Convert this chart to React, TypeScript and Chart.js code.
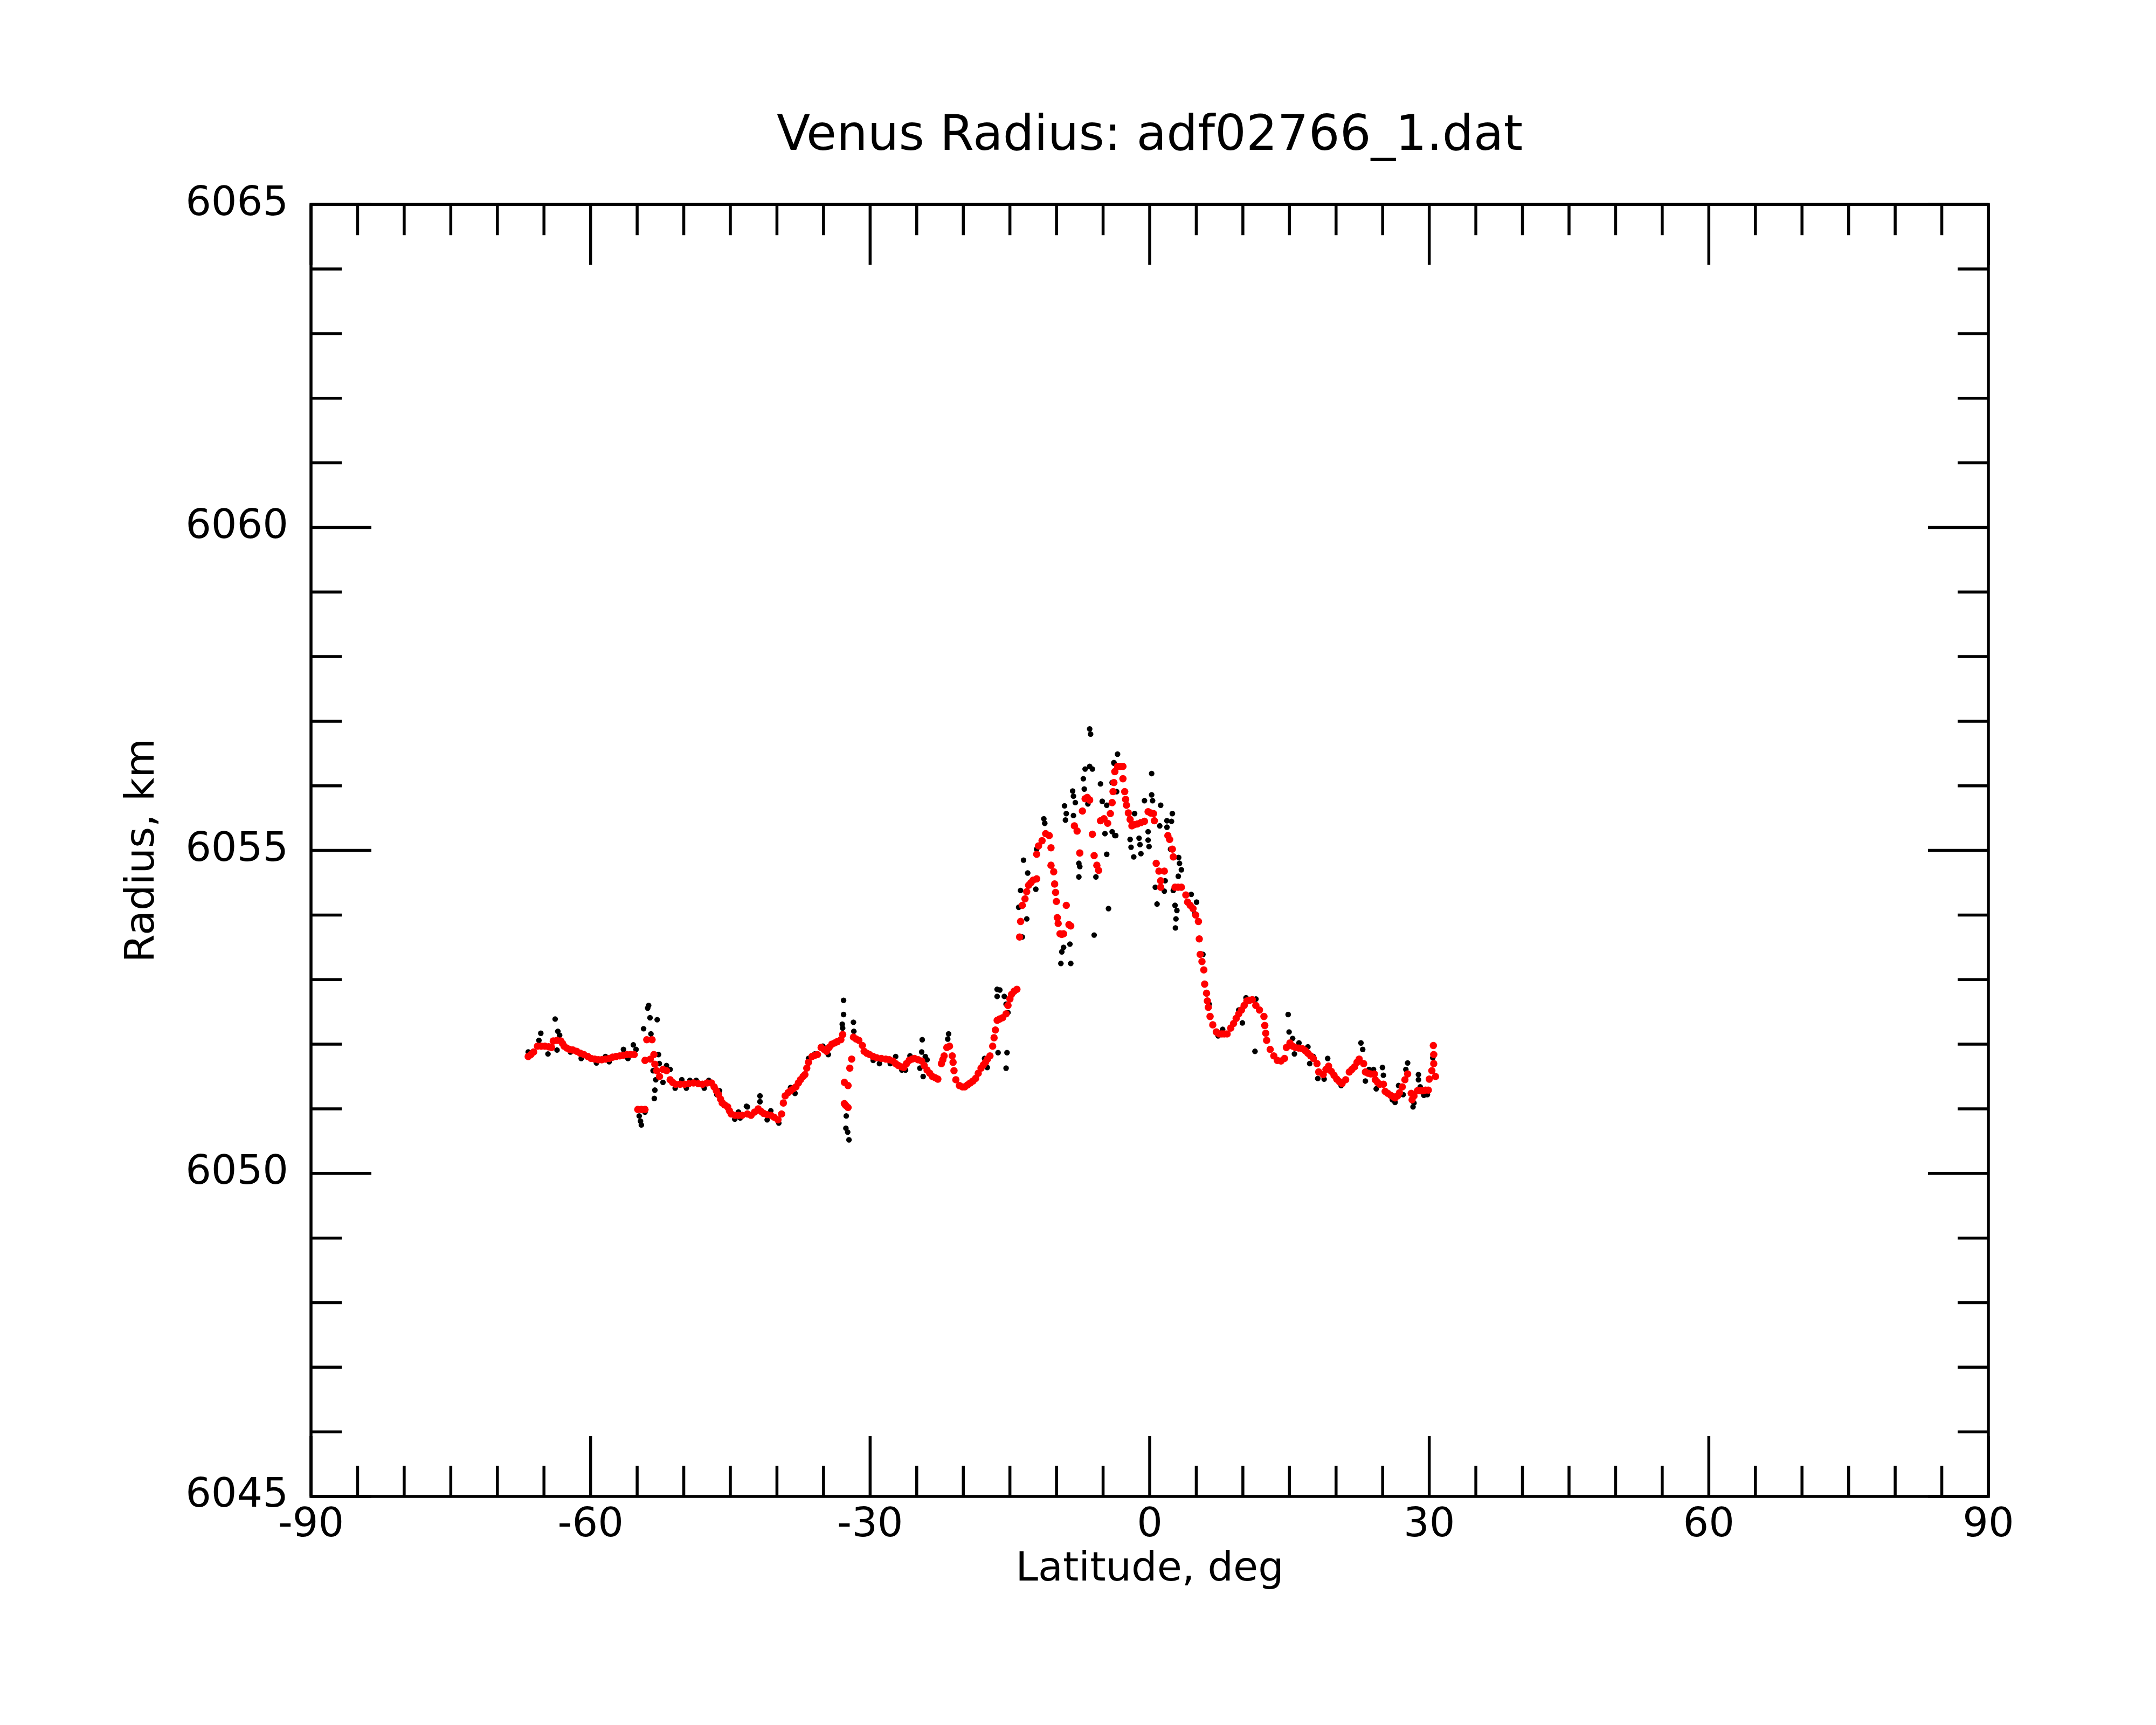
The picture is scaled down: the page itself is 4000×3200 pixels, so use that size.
import React, { useEffect, useRef } from 'react';
import { Chart, registerables } from 'chart.js';

Chart.register(...registerables);

// smoothed profile (red)
const smoothLat = [
  -66.69, -66.4, -66.11, -65.7, -65.3, -64.9, -64.5, -64.19, -64.0, -63.6, -63.2, -63.0, -62.84, -62.55, -62.26,
  -61.9, -61.49, -61.1, -60.72, -60.3, -59.94, -59.55, -59.17, -58.8, -58.4, -58.0, -57.63, -57.25, -56.86, -56.47,
  -56.09, -55.7, -55.32, -54.93, -54.55, -54.16, -54.16, -53.97, -53.58, -53.4, -53.2, -53.1, -52.9, -52.6, -52.23,
  -51.85, -51.46, -51.2, -50.88, -50.4, -49.92, -49.45, -48.95, -48.45, -47.99, -47.5, -47.03, -46.74, -46.5, -46.26,
  -46.05, -45.87, -45.6, -45.29, -45.1, -44.91, -44.5, -44.13, -43.75, -43.17, -42.78, -42.4, -42.01, -41.7, -41.43,
  -41.05, -40.66, -40.3, -39.89, -39.5, -39.31, -39.12, -38.8, -38.54, -38.25, -37.96, -37.7, -37.48, -37.2, -37.0,
  -36.8, -36.61, -36.23, -35.9, -35.65, -35.26, -34.95, -34.68, -34.4, -34.11, -33.8, -33.53, -33.14, -32.95, -31.98,
  -32.18, -32.76, -32.37, -32.76, -32.37, -32.6, -31.79, -31.5, -31.21, -30.83, -30.64, -30.35, -30.06, -29.67, -29.29,
  -28.8, -28.32, -27.95, -27.55, -27.26, -26.97, -26.65, -26.39, -26.1, -25.81, -25.5, -25.24, -24.85, -24.47, -24.2,
  -23.89, -23.6, -23.31, -23.0, -22.73, -22.35, -22.2, -22.06, -21.77, -21.48, -21.19, -21.1, -21.0, -20.8, -20.42,
  -20.1, -19.84, -19.55, -19.26, -18.97, -18.68, -18.4, -18.1, -17.85, -17.62, -17.4, -17.14, -16.85, -16.7, -16.56,
  -16.37, -16.1, -15.79, -15.41, -15.21, -15.0, -14.83, -14.55, -14.25, -13.96, -13.85, -13.67, -13.38, -13.2, -12.99,
  -12.75, -12.51, -12.13, -12.13, -11.93, -11.55, -11.16, -10.78, -10.59, -10.59, -10.3, -10.2, -10.1, -10.01, -9.91,
  -9.82, -9.62, -9.43, -9.24, -8.95, -8.66, -8.47, -8.08, -7.79, -7.5, -7.22, -6.93, -6.7, -6.44, -6.15,
  -5.96, -5.67, -5.48, -5.28, -4.9, -4.51, -4.22, -4.03, -3.93, -3.84, -3.74, -3.45, -3.15, -2.87, -2.87,
  -2.68, -2.58, -2.49, -2.29, -2.1, -1.91, -1.62, -1.33, -0.95, -0.56, -0.17, 0.1, 0.41, 0.5, 0.7,
  0.99, 1.18, 1.18, 1.57, 1.95, 2.14, 2.43, 2.53, 2.72, 3.05, 3.4, 3.88, 4.07, 4.35, 4.65,
  4.94, 5.23, 5.32, 5.42, 5.61, 5.81, 5.9, 6.1, 6.19, 6.29, 6.48, 6.77, 7.15, 7.45, 7.74,
  8.0, 8.31, 8.7, 9.0, 9.28, 9.56, 9.85, 10.14, 10.43, 10.72, 11.01, 11.39, 11.78, 12.26, 12.35,
  12.45, 12.55, 12.93, 13.32, 13.7, 14.09, 14.47, 14.67, 15.05, 15.34, 15.63, 16.0, 16.4, 16.7, 16.98,
  17.27, 17.56, 17.95, 18.14, 18.62, 18.91, 19.2, 19.49, 19.78, 20.07, 20.36, 20.64, 21.03, 21.42, 21.7,
  21.99, 22.25, 22.48, 22.96, 23.15, 23.45, 23.73, 24.11, 24.21, 24.45, 24.69, 25.08, 25.27, 25.55, 25.85,
  26.1, 26.33, 26.6, 26.81, 27.1, 27.39, 27.68, 28.07, 28.16, 28.36, 28.74, 29.03, 29.32, 29.6, 29.9,
  30.0, 30.28, 30.48, 30.48, 30.44, 30.67,
];
const smoothRadius = [
  6051.81, 6051.84, 6051.88, 6051.97, 6051.97, 6051.97, 6051.96, 6051.95, 6052.05, 6052.06, 6052.05, 6052.01, 6051.97, 6051.94, 6051.92,
  6051.91, 6051.89, 6051.86, 6051.84, 6051.81, 6051.78, 6051.77, 6051.76, 6051.76, 6051.77, 6051.78, 6051.8, 6051.81, 6051.82, 6051.83,
  6051.84, 6051.84, 6051.84, 6050.99, 6050.99, 6050.99, 6051.75, 6052.07, 6051.77, 6052.07, 6051.84, 6051.69, 6051.59, 6051.5, 6051.61,
  6051.59, 6051.45, 6051.41, 6051.38, 6051.38, 6051.38, 6051.39, 6051.4, 6051.39, 6051.38, 6051.4, 6051.4, 6051.34, 6051.28, 6051.22,
  6051.15, 6051.09, 6051.06, 6051.03, 6050.97, 6050.92, 6050.9, 6050.9, 6050.9, 6050.92, 6050.9, 6050.95, 6051.0, 6050.96, 6050.93,
  6050.91, 6050.9, 6050.87, 6050.83, 6050.92, 6051.09, 6051.2, 6051.25, 6051.28, 6051.31, 6051.34, 6051.4, 6051.45, 6051.5, 6051.53,
  6051.63, 6051.72, 6051.81, 6051.83, 6051.84, 6051.95, 6051.92, 6051.89, 6051.95, 6052.0, 6052.02, 6052.04, 6052.07, 6052.15, 6051.77,
  6051.63, 6051.41, 6051.36, 6051.08, 6051.02, 6051.05, 6052.11, 6052.08, 6052.06, 6051.98, 6051.89, 6051.86, 6051.84, 6051.81, 6051.79,
  6051.78, 6051.77, 6051.76, 6051.74, 6051.7, 6051.67, 6051.65, 6051.64, 6051.7, 6051.75, 6051.77, 6051.78, 6051.76, 6051.74, 6051.67,
  6051.6, 6051.55, 6051.5, 6051.48, 6051.46, 6051.7, 6051.76, 6051.82, 6051.95, 6051.97, 6051.82, 6051.72, 6051.59, 6051.45, 6051.36,
  6051.34, 6051.34, 6051.37, 6051.4, 6051.43, 6051.47, 6051.55, 6051.63, 6051.68, 6051.72, 6051.77, 6051.82, 6051.97, 6052.1, 6052.22,
  6052.37, 6052.39, 6052.41, 6052.47, 6052.6, 6052.7, 6052.77, 6052.82, 6052.85, 6053.66, 6053.9, 6054.15, 6054.25, 6054.36, 6054.46,
  6054.5, 6054.54, 6054.56, 6054.94, 6055.07, 6055.15, 6055.26, 6055.23, 6055.04, 6054.77, 6054.67, 6054.48, 6054.35, 6054.21, 6053.96,
  6053.87, 6053.71, 6053.7, 6053.71, 6054.15, 6053.85, 6053.83, 6055.38, 6055.3, 6054.96, 6055.61, 6055.8, 6055.82, 6055.78, 6055.25,
  6054.92, 6054.77, 6054.69, 6055.46, 6055.49, 6055.42, 6055.57, 6055.74, 6055.91, 6056.05, 6056.22, 6056.3, 6056.3, 6056.3, 6056.11,
  6055.91, 6055.79, 6055.7, 6055.58, 6055.48, 6055.38, 6055.4, 6055.41, 6055.43, 6055.45, 6055.6, 6055.58, 6055.57, 6055.46, 6054.8,
  6054.68, 6054.53, 6054.43, 6054.68, 6055.23, 6055.17, 6055.02, 6054.9, 6054.43, 6054.43, 6054.43, 6054.31, 6054.2, 6054.15, 6054.1,
  6054.0, 6053.9, 6053.63, 6053.39, 6053.28, 6053.15, 6052.93, 6052.79, 6052.67, 6052.57, 6052.43, 6052.3, 6052.19, 6052.16, 6052.16,
  6052.16, 6052.16, 6052.25, 6052.32, 6052.4, 6052.47, 6052.53, 6052.6, 6052.67, 6052.68, 6052.69, 6052.6, 6052.53, 6052.43, 6052.29,
  6052.17, 6052.06, 6051.92, 6051.82, 6051.75, 6051.74, 6051.78, 6051.95, 6052.02, 6051.97, 6051.95, 6051.94, 6051.93, 6051.9, 6051.86,
  6051.82, 6051.78, 6051.7, 6051.57, 6051.53, 6051.61, 6051.66, 6051.58, 6051.52, 6051.46, 6051.42, 6051.39, 6051.45, 6051.57, 6051.61,
  6051.65, 6051.72, 6051.77, 6051.7, 6051.57, 6051.55, 6051.54, 6051.54, 6051.45, 6051.41, 6051.38, 6051.38, 6051.27, 6051.24, 6051.21,
  6051.19, 6051.17, 6051.2, 6051.25, 6051.34, 6051.45, 6051.54, 6051.24, 6051.14, 6051.2, 6051.28, 6051.28, 6051.28, 6051.29, 6051.29,
  6051.46, 6051.59, 6051.7, 6051.84, 6051.98, 6051.5,
];

// raw samples (black)
const rawLat = [
  -66.69, -65.54, -65.34, -64.57, -63.8, -63.51, -63.32, -63.6, -62.16, -61.0, -59.37, -58.4, -58.0, -56.47, -55.99,
  -55.41, -55.12, -54.78, -54.64, -54.55, -54.16, -54.31, -53.77, -53.87, -53.62, -52.85, -53.52, -52.71, -52.62, -53.29,
  -53.0, -53.1, -53.16, -52.23, -51.85, -51.46, -50.92, -50.21, -49.72, -49.34, -48.66, -47.8, -47.32, -46.45, -46.16,
  -44.52, -43.94, -43.27, -44.13, -43.17, -41.82, -41.82, -41.05, -40.66, -39.8, -38.54, -38.06, -36.61, -35.94, -35.07,
  -34.49, -32.85, -32.85, -32.99, -32.95, -31.79, -31.75, -32.56, -32.6, -32.41, -32.27, -29.67, -29.0, -27.84, -27.26,
  -26.59, -26.2, -25.72, -24.41, -24.47, -24.66, -24.31, -24.08, -23.89, -21.58, -21.67, -17.72, -17.43, -16.27, -15.31,
  -15.41, -16.37, -16.08, -16.37, -15.6, -15.41, -15.21, -13.67, -13.19, -14.06, -13.86, -13.09, -12.22, -13.54, -12.13,
  -11.36, -11.26, -9.43, -9.24, -9.53, -8.47, -8.56, -9.14, -8.95, -9.04, -8.27, -8.18, -7.98, -8.18, -7.6,
  -7.5, -7.6, -7.12, -7.02, -6.93, -6.44, -6.15, -6.44, -6.34, -6.63, -5.28, -5.09, -4.61, -4.8, -3.74,
  -4.61, -4.42, -5.96, -5.77, -4.03, -3.84, -3.45, -3.83, -3.55, -4.03, -3.64, -1.62, -2.1, -2.0, -1.71,
  -1.14, -1.04, -0.94, -0.56, -0.17, -0.17, -0.07, 0.21, 0.21, 0.31, 1.18, 1.08, 1.85, 2.34, 2.43,
  1.85, 0.6, 0.79, 1.57, 1.66, 2.24, 3.11, 3.2, 3.4, 3.07, 2.53, 2.72, 2.92, 2.82, 2.76,
  4.46, 5.03, 4.84, 5.71, 6.38, 7.35, 7.83, 9.56, 9.95, 10.34, 11.4, 11.3, 14.86, 14.96, 15.34,
  15.53, 16.02, 16.98, 17.17, 17.56, 18.04, 18.72, 19.1, 19.2, 20.55, 22.67, 22.86, 23.15, 23.54, 24.02,
  24.31, 24.98, 25.08, 26.04, 26.33, 26.71, 27.2, 27.68, 27.49, 28.26, 28.36, 28.84, 28.84, 29.03, 29.42,
  29.8, 30.38,
];
const rawRadius = [
  6051.88, 6052.06, 6052.17, 6051.85, 6052.39, 6052.2, 6052.14, 6051.91, 6051.88, 6051.78, 6051.71, 6051.81, 6051.73, 6051.92, 6051.78,
  6051.99, 6051.92, 6050.89, 6050.81, 6050.75, 6050.95, 6052.24, 6052.6, 6052.56, 6052.41, 6052.38, 6052.16, 6051.84, 6051.7, 6051.59,
  6051.45, 6051.29, 6051.16, 6051.41, 6051.67, 6051.61, 6051.32, 6051.45, 6051.32, 6051.44, 6051.44, 6051.32, 6051.44, 6051.22, 6051.28,
  6050.84, 6050.86, 6051.04, 6050.95, 6051.03, 6051.2, 6051.11, 6050.83, 6050.97, 6050.78, 6051.33, 6051.24, 6051.78, 6051.85, 6051.97,
  6051.84, 6052.68, 6052.46, 6052.31, 6052.25, 6052.34, 6052.2, 6050.89, 6050.7, 6050.64, 6050.52, 6051.75, 6051.7, 6051.7, 6051.81,
  6051.6, 6051.6, 6051.82, 6052.07, 6051.88, 6051.63, 6051.5, 6051.81, 6051.76, 6052.16, 6052.08, 6051.78, 6051.64, 6051.87, 6051.87,
  6051.63, 6052.85, 6052.84, 6052.74, 6052.74, 6052.62, 6052.49, 6053.66, 6053.94, 6054.12, 6054.38, 6054.65, 6054.4, 6054.85, 6055.02,
  6055.49, 6055.42, 6053.43, 6053.5, 6053.25, 6053.25, 6053.55, 6055.69, 6055.57, 6055.47, 6055.92, 6055.84, 6055.74, 6055.54, 6054.8,
  6054.75, 6054.59, 6056.11, 6055.95, 6056.26, 6056.3, 6056.26, 6056.88, 6056.8, 6055.72, 6056.03, 6055.76, 6055.7, 6055.26, 6055.23,
  6054.94, 6054.1, 6053.69, 6054.59, 6056.05, 6056.36, 6056.49, 6056.35, 6055.91, 6055.29, 6055.23, 6055.57, 6055.17, 6055.05, 6054.9,
  6055.19, 6055.09, 6054.95, 6055.77, 6055.29, 6055.16, 6055.06, 6056.19, 6055.86, 6055.77, 6055.7, 6055.38, 6055.46, 6055.45, 6055.57,
  6055.36, 6054.43, 6054.17, 6054.37, 6054.53, 6055.02, 6054.89, 6054.8, 6054.7, 6054.6, 6054.38, 6054.15, 6054.07, 6053.94, 6053.8,
  6054.32, 6054.2, 6054.02, 6053.39, 6052.62, 6052.13, 6052.23, 6052.53, 6052.33, 6052.72, 6052.7, 6051.89, 6052.46, 6052.19, 6052.09,
  6051.85, 6052.02, 6051.96, 6051.7, 6051.81, 6051.47, 6051.46, 6051.78, 6051.67, 6051.36, 6052.02, 6051.92, 6051.43, 6051.61, 6051.61,
  6051.31, 6051.64, 6051.52, 6051.14, 6051.1, 6051.36, 6051.22, 6051.71, 6051.61, 6051.03, 6051.09, 6051.53, 6051.45, 6051.34, 6051.21,
  6051.22, 6051.79,
];

const xTicks = [-90, -60, -30, 0, 30, 60, 90];
const yTicks = [6045, 6050, 6055, 6060, 6065];
const xMinorStep = 5;
const yMinorStep = 1;

// box and inward ticks on all four sides, like the original plot
const frameTicks = {
  id: 'frameTicks',
  afterDatasetsDraw(chart: any) {
    const { ctx, chartArea: a, scales } = chart;
    const x = scales.x;
    const y = scales.y;
    ctx.save();
    ctx.strokeStyle = '#000';
    ctx.lineWidth = 5.5;
    ctx.beginPath();
    for (let v = xTicks[0]; v <= xTicks[xTicks.length - 1]; v += xMinorStep) {
      const px = x.getPixelForValue(v);
      const len = xTicks.includes(v) ? 112 : 57;
      ctx.moveTo(px, a.bottom);
      ctx.lineTo(px, a.bottom - len);
      ctx.moveTo(px, a.top);
      ctx.lineTo(px, a.top + len);
    }
    for (let v = yTicks[0]; v <= yTicks[yTicks.length - 1]; v += yMinorStep) {
      const py = y.getPixelForValue(v);
      const len = yTicks.includes(v) ? 112 : 57;
      ctx.moveTo(a.left, py);
      ctx.lineTo(a.left + len, py);
      ctx.moveTo(a.right, py);
      ctx.lineTo(a.right - len, py);
    }
    ctx.stroke();
    ctx.strokeRect(a.left, a.top, a.right - a.left, a.bottom - a.top);
    ctx.restore();
  },
};

const App = () => {
  const canvasRef = useRef<HTMLCanvasElement | null>(null);

  useEffect(() => {
    if (!canvasRef.current) return;
    Chart.defaults.font.family = 'DejaVu Sans';
    Chart.defaults.color = '#000';

    const smooth = smoothLat.map((v, i) => ({ x: v, y: smoothRadius[i] }));
    const raw = rawLat.map((v, i) => ({ x: v, y: rawRadius[i] }));

    const chart = new Chart(canvasRef.current, {
      type: 'scatter',
      data: {
        datasets: [
          {
            label: 'smoothed',
            data: smooth,
            pointRadius: 6.8,
            pointBorderWidth: 0,
            backgroundColor: '#ff0000',
            borderColor: '#ff0000',
          },
          {
            label: 'raw',
            data: raw,
            pointRadius: 5.2,
            pointBorderWidth: 0,
            backgroundColor: '#000000',
            borderColor: '#000000',
          },
        ],
      },
      options: {
        responsive: false,
        animation: false,
        devicePixelRatio: 1,
        layout: { padding: { left: 0, right: 311, top: 0, bottom: 0 } },
        plugins: {
          legend: { display: false },
          tooltip: { enabled: false },
          title: {
            display: true,
            fullSize: false,
            text: 'Venus Radius: adf02766_1.dat',
            font: { size: 91, weight: 'normal' },
            color: '#000',
            padding: { top: 200, bottom: 70 },
          },
        },
        scales: {
          x: {
            type: 'linear',
            min: -90,
            max: 90,
            grid: { display: false, drawTicks: false },
            border: { display: false },
            afterFit: (scale: any) => {
              scale.height = 424;
            },
            afterBuildTicks: (scale: any) => {
              scale.ticks = xTicks.map((v) => ({ value: v }));
            },
            ticks: {
              padding: 10,
              font: { size: 75 },
              color: '#000',
              maxRotation: 0,
              callback: (v: any) => String(v),
            },
            title: {
              display: true,
              text: 'Latitude, deg',
              font: { size: 75 },
              color: '#000',
              padding: { top: 0, bottom: 242 },
            },
          },
          y: {
            type: 'linear',
            min: 6045,
            max: 6065,
            grid: { display: false, drawTicks: false },
            border: { display: false },
            afterFit: (scale: any) => {
              scale.width = 577;
            },
            afterBuildTicks: (scale: any) => {
              scale.ticks = yTicks.map((v) => ({ value: v }));
            },
            ticks: {
              padding: 42,
              font: { size: 75 },
              color: '#000',
              callback: (v: any) => String(v),
            },
            title: {
              display: true,
              text: 'Radius, km',
              font: { size: 75 },
              color: '#000',
              padding: { top: 221, bottom: 0 },
            },
          },
        },
      },
      plugins: [frameTicks],
    });

    return () => {
      chart.destroy();
    };
  }, []);

  return (
    <div style={{ position: 'absolute', left: 0, top: 0, width: 4000, height: 3200, background: '#fff' }}>
      <canvas ref={canvasRef} width='4000' height='3200' />
    </div>
  );
};

export default App;
